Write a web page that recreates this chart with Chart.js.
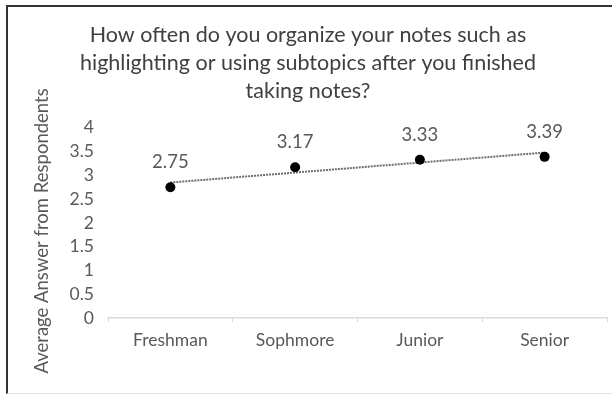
<!DOCTYPE html>
<html>
<head>
<meta charset="utf-8">
<script src="https://cdn.jsdelivr.net/npm/chart.js@4"></script>
<style>
  html, body { margin: 0; padding: 0; background: #fff; }
  #frame {
    position: absolute; left: 6px; top: 5px; width: 606px; height: 386px;
    border-top: 2px solid #333; border-left: 2px solid #333; border-bottom: 1px solid #e2e2e2;
  }
  #wrap { position: absolute; left: 0; top: 0; width: 612px; height: 394px; }
</style>
</head>
<body>
<div id="frame"></div>
<div id="wrap"><canvas id="chart" width="612" height="394"></canvas></div>
<script>
// Class years and average answers
const classYears = ['Freshman', 'Sophmore', 'Junior', 'Senior'];
const averageAnswers = [2.75, 3.17, 3.33, 3.39];
// Linear trend line values at each class year
const trendValues = [2.85, 3.06, 3.27, 3.48];
const titleLines = [
  'How often do you organize your notes such as',
  'highlighting or using subtopics after you finished',
  'taking notes?'
];
const yAxisTitle = 'Average Answer from Respondents';

const FONT = 'Lato, "Open Sans", sans-serif';

// Value labels drawn above each marker
const valueLabels = {
  id: 'valueLabels',
  afterDatasetsDraw(chart) {
    const meta = chart.getDatasetMeta(0);
    const ctx = chart.ctx;
    ctx.save();
    ctx.font = '18.5px ' + FONT;
    ctx.fillStyle = '#595959';
    ctx.textAlign = 'center';
    ctx.textBaseline = 'middle';
    meta.data.forEach((pt, i) => {
      ctx.fillText(averageAnswers[i].toFixed(2), pt.x, pt.y - 25);
    });
    ctx.restore();
  }
};

// Rotated value-axis title
const yTitle = {
  id: 'yTitle',
  afterDraw(chart) {
    const ctx = chart.ctx;
    const area = chart.chartArea;
    ctx.save();
    ctx.translate(42, (area.top + area.bottom) / 2 + 8);
    ctx.rotate(-Math.PI / 2);
    ctx.font = '18.5px ' + FONT;
    ctx.fillStyle = '#595959';
    ctx.textAlign = 'center';
    ctx.textBaseline = 'middle';
    ctx.fillText(yAxisTitle, 0, 0);
    ctx.restore();
  }
};

new Chart(document.getElementById('chart'), {
  type: 'line',
  data: {
    labels: classYears,
    datasets: [
      {
        data: averageAnswers,
        showLine: false,
        pointRadius: 5,
        pointBackgroundColor: '#000',
        pointBorderColor: '#000',
        pointBorderWidth: 0,
        order: 0
      },
      {
        data: trendValues,
        borderColor: '#6e6e6e',
        borderWidth: 2,
        borderDash: [2, 1],
        pointRadius: 0,
        fill: false,
        tension: 0,
        order: 1
      }
    ]
  },
  options: {
    responsive: false,
    animation: false,
    devicePixelRatio: 1,
    layout: { padding: { left: 8, right: 4, top: 21, bottom: 26 } },
    plugins: {
      legend: { display: false },
      tooltip: { enabled: false },
      title: {
        display: true,
        text: titleLines,
        color: '#404040',
        font: { family: FONT, size: 21.5, weight: 'normal', lineHeight: 1.3 },
        padding: { top: 0, bottom: 23 }
      }
    },
    scales: {
      x: {
        offset: true,
        grid: {
          offset: true,
          display: true,
          drawOnChartArea: false,
          drawTicks: true,
          tickLength: 4,
          color: '#d9d9d9',
          lineWidth: 1
        },
        border: { display: true, color: '#d9d9d9', width: 1.5 },
        ticks: {
          color: '#595959',
          font: { family: FONT, size: 17.5 },
          padding: 8
        },
        afterFit(scale) { scale.height = 50; }
      },
      y: {
        min: 0,
        max: 4,
        grid: { display: false, drawTicks: false },
        border: { display: false },
        ticks: {
          stepSize: 0.5,
          autoSkip: false,
          color: '#595959',
          font: { family: FONT, size: 17.5, lineHeight: 1 },
          padding: 14,
          callback: (v) => String(v)
        },
        afterFit(scale) { scale.width = 100; }
      }
    }
  },
  plugins: [valueLabels, yTitle]
});
</script>
</body>
</html>
